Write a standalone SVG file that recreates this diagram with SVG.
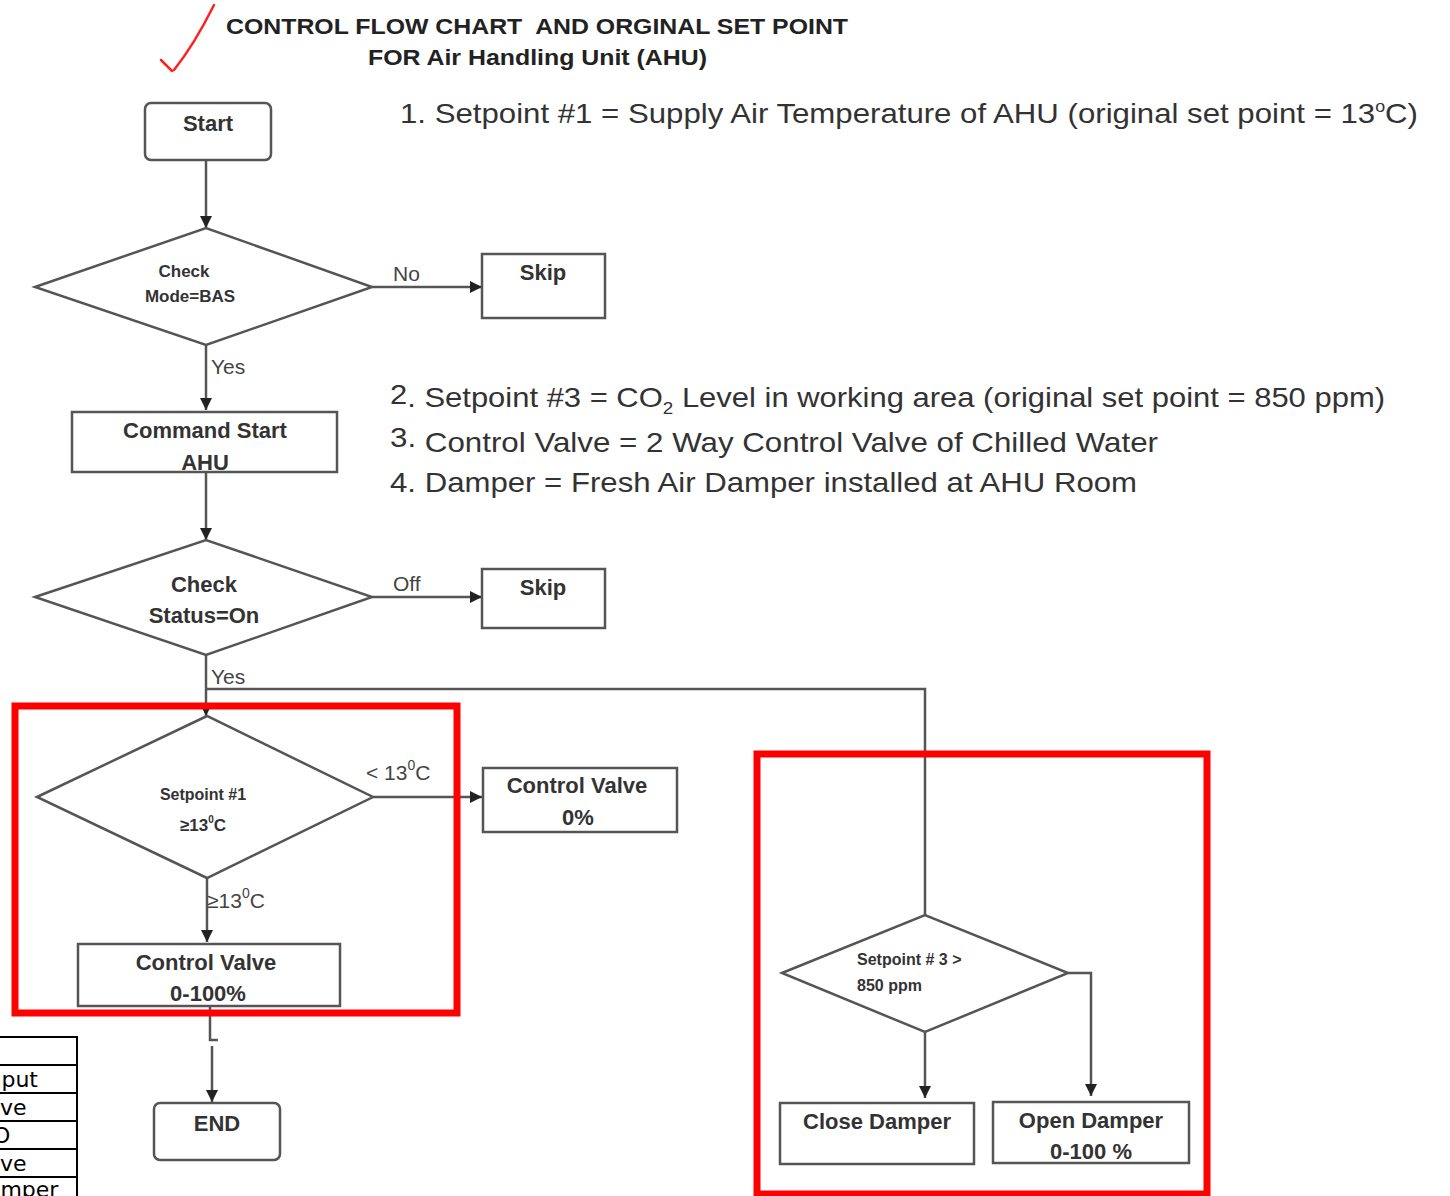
<svg xmlns="http://www.w3.org/2000/svg" width="1450" height="1196" viewBox="0 0 1450 1196">
  <defs>
    <marker id="arr" viewBox="0 0 10 10" refX="10" refY="5" markerWidth="12" markerHeight="12" markerUnits="userSpaceOnUse" orient="auto">
      <path d="M0,0 L10,5 L0,10 Z" fill="#222"/>
    </marker>
    <style>
      .box { fill: none; stroke: #555; stroke-width: 2.5; }
      .line { fill: none; stroke: #555; stroke-width: 2.5; }
      .lbl { font-family: "Liberation Sans", Arial, sans-serif; font-weight: bold; fill: #333; text-anchor: middle; }
      .lbl-left { font-family: "Liberation Sans", Arial, sans-serif; font-weight: bold; fill: #333; text-anchor: start; }
      .edge { font-family: "Liberation Sans", Arial, sans-serif; fill: #444; font-size: 21px; }
      .note { font-family: "Liberation Sans", Arial, sans-serif; fill: #333; font-size: 28px; }
      .title { font-family: "Liberation Sans", Arial, sans-serif; font-weight: bold; fill: #222; font-size: 22px; }
      .red { fill: none; stroke: #ff0000; stroke-width: 7; }
      .tbl { fill: none; stroke: #000; stroke-width: 2; }
      .tbltxt { font-family: "DejaVu Sans", Verdana, sans-serif; fill: #000; font-size: 22px; }
    </style>
  </defs>

  <rect x="0" y="0" width="1450" height="1196" fill="#ffffff"/>

  <!-- heading -->
  <g id="heading">
    <path d="M214,5 C204,25 190,50 174,70 M161,60 L172,71" fill="none" stroke="#ff2020" stroke-width="2.5" stroke-linecap="round"/>
    <text class="title" x="226" y="34" xml:space="preserve" textLength="622" lengthAdjust="spacingAndGlyphs">CONTROL FLOW CHART  AND ORGINAL SET POINT</text>
    <text class="title" x="368" y="65" textLength="339" lengthAdjust="spacingAndGlyphs">FOR Air Handling Unit (AHU)</text>
  </g>

  <!-- definitions list -->
  <g id="notes">
    <text class="note" x="400" y="123" textLength="1018" lengthAdjust="spacingAndGlyphs">1. Setpoint #1 = Supply Air Temperature of AHU (original set point = 13<tspan dy="-11" font-size="16">o</tspan><tspan dy="11">C)</tspan></text>
    <text class="note" x="390" y="407" textLength="995" lengthAdjust="spacingAndGlyphs"><tspan dy="-3">2</tspan><tspan dy="3">. Setpoint #3 = CO</tspan><tspan dy="7" font-size="17">2</tspan><tspan dy="-7"> Level in working area (original set point = 850 ppm)</tspan></text>
    <text class="note" x="390" y="452" textLength="768" lengthAdjust="spacingAndGlyphs"><tspan dy="-5">3.</tspan><tspan dy="5"> Control Valve = 2 Way Control Valve of Chilled Water</tspan></text>
    <text class="note" x="390" y="492" textLength="747" lengthAdjust="spacingAndGlyphs">4. Damper = Fresh Air Damper installed at AHU Room</text>
  </g>

  <!-- connectors -->
  <g id="connectors">
    <line class="line" x1="206" y1="160" x2="206" y2="228" marker-end="url(#arr)"/>
    <line class="line" x1="372" y1="287" x2="482" y2="287" marker-end="url(#arr)"/>
    <text class="edge" x="393" y="281">No</text>
    <line class="line" x1="206" y1="345" x2="206" y2="410" marker-end="url(#arr)"/>
    <text class="edge" x="211" y="374">Yes</text>
    <line class="line" x1="206" y1="472" x2="206" y2="540" marker-end="url(#arr)"/>
    <line class="line" x1="372" y1="597" x2="482" y2="597" marker-end="url(#arr)"/>
    <text class="edge" x="393" y="591">Off</text>
    <line class="line" x1="206" y1="655" x2="206" y2="716" marker-end="url(#arr)"/>
    <text class="edge" x="211" y="684">Yes</text>
    <path class="line" d="M206,689 H925 V915"/>
    <line class="line" x1="373" y1="797" x2="482" y2="797" marker-end="url(#arr)"/>
    <text class="edge" x="366" y="780" font-size="24">&lt; 13<tspan dy="-10" font-size="14">0</tspan><tspan dy="10">C</tspan></text>
    <line class="line" x1="207" y1="878" x2="207" y2="942" marker-end="url(#arr)"/>
    <text class="edge" x="207" y="908" font-size="24">≥13<tspan dy="-10" font-size="14">0</tspan><tspan dy="10">C</tspan></text>
    <path class="line" d="M210,1006 V1040 H218"/>
    <line class="line" x1="212" y1="1046" x2="212" y2="1102" marker-end="url(#arr)"/>
    <line class="line" x1="925" y1="1032" x2="925" y2="1098" marker-end="url(#arr)"/>
    <path class="line" d="M1068,973 H1091 V1096" marker-end="url(#arr)"/>
  </g>

  <!-- nodes -->
  <g id="start">
    <rect class="box" x="145" y="103" width="126" height="57" rx="6"/>
    <text class="lbl" x="208" y="131" font-size="22">Start</text>
  </g>
  <g id="check-mode">
    <polygon class="box" points="35,287 206,228 372,287 206,345"/>
    <text class="lbl" x="184" y="277" font-size="17">Check</text>
    <text class="lbl" x="190" y="302" font-size="17">Mode=BAS</text>
  </g>
  <g id="skip-mode">
    <rect class="box" x="482" y="254" width="123" height="64"/>
    <text class="lbl" x="543" y="280" font-size="22">Skip</text>
  </g>
  <g id="command-start">
    <rect class="box" x="72" y="412" width="265" height="60"/>
    <text class="lbl" x="205" y="438" font-size="22">Command Start</text>
    <text class="lbl" x="205" y="470" font-size="22">AHU</text>
  </g>
  <g id="check-status">
    <polygon class="box" points="35,597 206,540 372,597 206,655"/>
    <text class="lbl" x="204" y="592" font-size="22">Check</text>
    <text class="lbl" x="204" y="623" font-size="22">Status=On</text>
  </g>
  <g id="skip-status">
    <rect class="box" x="482" y="569" width="123" height="59"/>
    <text class="lbl" x="543" y="595" font-size="22">Skip</text>
  </g>
  <g id="setpoint1">
    <polygon class="box" points="37,797 207,716 373,797 207,878"/>
    <text class="lbl" x="203" y="800" font-size="16">Setpoint #1</text>
    <text class="lbl" x="203" y="831" font-size="17">≥13<tspan dy="-8" font-size="10">0</tspan><tspan dy="8">C</tspan></text>
  </g>
  <g id="valve-closed">
    <rect class="box" x="483" y="768" width="194" height="64"/>
    <text class="lbl" x="577" y="793" font-size="22">Control Valve</text>
    <text class="lbl" x="578" y="825" font-size="22">0%</text>
  </g>
  <g id="valve-modulate">
    <rect class="box" x="78" y="944" width="262" height="62"/>
    <text class="lbl" x="206" y="970" font-size="22">Control Valve</text>
    <text class="lbl" x="208" y="1001" font-size="22">0-100%</text>
  </g>
  <g id="end">
    <rect class="box" x="154" y="1103" width="126" height="57" rx="6"/>
    <text class="lbl" x="217" y="1131" font-size="22">END</text>
  </g>
  <g id="setpoint3">
    <polygon class="box" points="782,973 925,915 1068,973 925,1032"/>
    <text class="lbl-left" x="857" y="965" font-size="16">Setpoint # 3 &gt;</text>
    <text class="lbl-left" x="857" y="991" font-size="16">850 ppm</text>
  </g>
  <g id="close-damper">
    <rect class="box" x="780" y="1103" width="194" height="61"/>
    <text class="lbl" x="877" y="1129" font-size="22">Close Damper</text>
  </g>
  <g id="open-damper">
    <rect class="box" x="993" y="1102" width="196" height="61"/>
    <text class="lbl" x="1091" y="1128" font-size="22">Open Damper</text>
    <text class="lbl" x="1091" y="1159" font-size="22">0-100 %</text>
  </g>

  <!-- highlight frames -->
  <g id="highlights">
    <rect class="red" x="15" y="706" width="442" height="307"/>
    <rect class="red" x="757" y="754" width="450" height="440"/>
  </g>

  <!-- table running off the lower left edge -->
  <g id="table-edge">
    <path class="tbl" d="M0,1037 H77 V1196 M0,1065 H77 M0,1093 H77 M0,1121 H77 M0,1149 H77 M0,1177 H77"/>
    <text class="tbltxt" x="-19" y="1087">Input</text>
    <text class="tbltxt" x="-33" y="1115">Valve</text>
    <text class="tbltxt" x="-24" y="1143">DO</text>
    <text class="tbltxt" x="-33" y="1171">Valve</text>
    <text class="tbltxt" x="-30" y="1197">Damper</text>
  </g>
</svg>
